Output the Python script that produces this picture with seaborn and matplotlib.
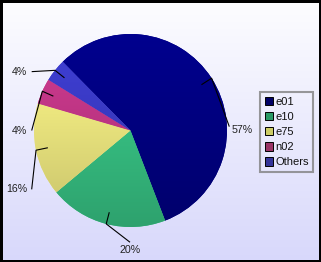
import numpy as np
import matplotlib
matplotlib.use("Agg")
import matplotlib.pyplot as plt
import matplotlib.colors as mcolors
from matplotlib.patches import Patch, Rectangle
import seaborn as sns

# Share of each category (percent)
categories = ["e01", "e10", "e75", "n02", "Others"]
shares = [56.6, 19.8, 15.6, 4.3, 3.8]

# Slice fill colours and the darker legend swatches
slice_colors = ["#00007f", "#36be81", "#e9e37d", "#bd3583", "#3939c1"]
legend_colors = ["#000066", "#2a9a66", "#cccc66", "#993366", "#333399"]

sns.set_theme(style="white")
plt.rcParams["font.family"] = ["Liberation Sans", "DejaVu Sans"]

W, H = 321, 262
fig = plt.figure(figsize=(W / 100, H / 100), dpi=100)

# Vertical background wash: near white at the top to lavender at the bottom
bg = fig.add_axes([0, 0, 1, 1], zorder=0)
t = np.linspace(0, 1, 256)[:, None, None]
top_c = np.array(mcolors.to_rgb("#fdfdff"))
bot_c = np.array(mcolors.to_rgb("#d8d8fb"))
bg.imshow(top_c + (bot_c - top_c) * t, aspect="auto", extent=[0, 1, 0, 1])
bg.set_axis_off()

# Pie axes: unit-radius pie centred at pixel (130.5, 130.5), radius 96.5 px
cx, cy, R = 130.5, 130.5, 96.5
ax = fig.add_axes([0, 0, 1, 1], zorder=1)
ax.patch.set_alpha(0)

wedges, _ = ax.pie(shares, startangle=134.6, counterclock=False,
                   colors=slice_colors, radius=1, center=(0, 0),
                   wedgeprops=dict(linewidth=0))

# Top-lit shading inside every slice
ys = np.linspace(1, -1, 200)[:, None, None]
shade = 0.985 + 0.135 * ys
for w, c in zip(wedges, slice_colors):
    base = np.array(mcolors.to_rgb(c))
    img = np.clip(base * shade, 0, 1)
    im = ax.imshow(img, extent=(-1, 1, -1, 1), aspect="auto", zorder=2,
                   interpolation="bilinear")
    im.set_clip_path(w)

# Percentage labels with bent leader lines
total = sum(shares)
label_anchor = [(1.05, 0.005, "left"), (0.0, -1.235, "center"),
                (-1.07, -0.61, "right"), (-1.07, 0.0, "right"),
                (-1.07, 0.61, "right")]
line_end = [(1.024, 0.04), (-0.005, -1.158), (-1.024, -0.61),
            (-1.024, 0.0), (-1.024, 0.61)]
for w, v, (lx, ly, ha), (ex, ey) in zip(wedges, shares, label_anchor, line_end):
    mid = np.deg2rad((w.theta1 + w.theta2) / 2)
    xi, yi = 0.875 * np.cos(mid), 0.875 * np.sin(mid)
    xo, yo = 1.0 * np.cos(mid), 1.0 * np.sin(mid)
    ax.plot([xi, xo, ex], [yi, yo, ey], color="black", lw=0.8, zorder=3,
            solid_capstyle="butt")
    ax.text(lx, ly, f"{v / total * 100:.0f}%", ha=ha, va="center",
            fontsize=7.7, color="#222222", zorder=4)

ax.set_xlim(-cx / R, (W - cx) / R)
ax.set_ylim(-(H - cy) / R, cy / R)
ax.set_aspect("auto")
ax.set_axis_off()

# Legend box on the right
handles = [Patch(facecolor=c, edgecolor="black", linewidth=0.7) for c in legend_colors]
leg = fig.legend(handles, categories, loc="upper left",
                 bbox_to_anchor=(260.3 / W, 1 - 92.5 / H), borderaxespad=0,
                 fontsize=8, handlelength=0.8, handleheight=0.8,
                 handletextpad=0.2, labelspacing=0.45, borderpad=0.38,
                 fancybox=False, frameon=True)
frame = leg.get_frame()
frame.set_facecolor("none")
frame.set_edgecolor("#808080")
frame.set_linewidth(1.5)
for txt in leg.get_texts():
    txt.set_color("#111111")

# Black outer border
fig.patches.append(Rectangle((0, 0), 1, 1, transform=fig.transFigure,
                             fill=False, edgecolor="black", linewidth=3.6,
                             zorder=10))

fig.savefig("out.png", dpi=100)
